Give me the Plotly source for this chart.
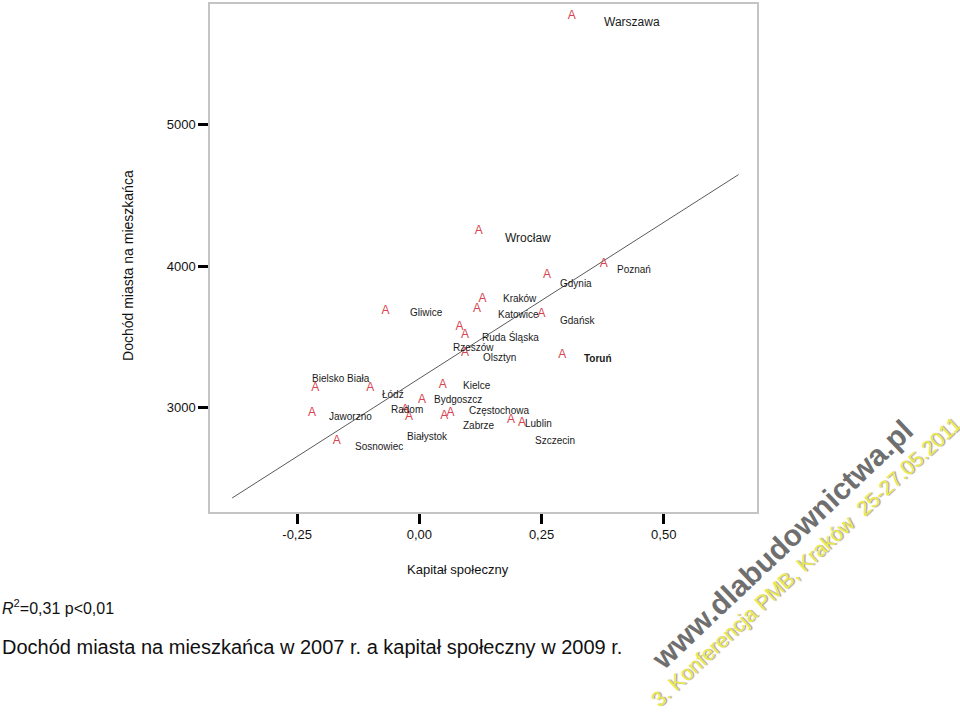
import plotly.graph_objects as go

# ---------------- data ----------------
cities = ["Warszawa", "Wrocław", "Gdynia", "Poznań", "Gliwice", "Kraków",
          "Katowice", "Gdańsk", "Rzeszów", "Ruda Śląska", "Olsztyn", "Toruń",
          "Bielsko Biała", "Łódź", "Jaworzno", "Sosnowiec", "Kielce",
          "Bydgoszcz", "Radom", "Białystok", "Częstochowa", "Zabrze",
          "Lublin", "Szczecin"]
social_capital = [0.312, 0.1215, 0.261, 0.377, -0.069, 0.129,
                  0.118, 0.250, 0.082, 0.0935, 0.0935, 0.2926,
                  -0.2128, -0.1002, -0.2195, -0.169, 0.048,
                  0.0055, -0.029, -0.021, 0.064, 0.051,
                  0.1876, 0.210]
income_per_capita = [5770, 4249, 3937, 4014, 3685, 3766,
                     3699, 3662, 3568, 3514, 3385, 3375,
                     3141, 3141, 2965, 2768, 3164,
                     3056, 2986, 2932, 2965, 2939,
                     2915, 2892]

fit_intercept = 3207
fit_slope = 2207
fit_x_span = [-0.383, 0.653]

x_tick_values = [-0.25, 0.0, 0.25, 0.50]
x_tick_labels = ["-0,25", "0,00", "0,25", "0,50"]
y_tick_values = [3000, 4000, 5000]
y_tick_labels = ["3000", "4000", "5000"]

x_title = "Kapitał społeczny"
y_title = "Dochód miasta na mieszkańca"
stat_text = "<i>R</i><sup>2</sup>=0,31 p&lt;0,01"
caption = "Dochód miasta na mieszkańca w 2007 r. a kapitał społeczny w 2009 r."
watermark1 = "www.dlabudownictwa.pl"
watermark2 = "3. Konferencja PMB, Kraków  25-27.05.2011"

# ---------------- style / layout ----------------
FONT = "Liberation Sans, Arial, Helvetica, sans-serif"
W, H = 960, 723
PL, PR, PT, PB = 210, 757, 2, 512          # plot area in pixels
MARK_RED = "#d9434f"

# label offsets (pixels: right, down) from each point, and label styling
label_offset = {
    "Warszawa": (30, 6), "Wrocław": (24, 7), "Gdynia": (11, 8), "Poznań": (11, 5),
    "Gliwice": (22, 2), "Kraków": (19, -1), "Katowice": (19, 6), "Gdańsk": (16, 6),
    "Rzeszów": (-8, 20), "Ruda Śląska": (15, 2), "Olsztyn": (16, 4), "Toruń": (20, 4),
    "Bielsko Biała": (-5, -9), "Łódź": (10, 7), "Jaworzno": (15, 4), "Sosnowiec": (16, 6),
    "Kielce": (18, 1), "Bydgoszcz": (10, 0), "Radom": (-16, 0), "Białystok": (-4, 19),
    "Częstochowa": (16, -2), "Zabrze": (17, 9), "Lublin": (12, 4), "Szczecin": (11, 17),
}
big_labels = {"Warszawa", "Wrocław"}
bold_labels = {"Toruń"}


def px(xp, yp):
    """pixel -> paper coordinates"""
    return (xp - PL) / (PR - PL), (PB - yp) / (PB - PT)


fig = go.Figure()

# regression line
fig.add_trace(go.Scatter(
    x=fit_x_span,
    y=[fit_intercept + fit_slope * v for v in fit_x_span],
    mode="lines", line=dict(color="#5a5a5a", width=1),
    hoverinfo="skip", showlegend=False))

# "A" markers
fig.add_trace(go.Scatter(
    x=social_capital, y=income_per_capita, mode="text",
    text=["A"] * len(cities), textposition="middle center",
    textfont=dict(family=FONT, size=12, color=MARK_RED),
    hovertext=cities, showlegend=False))

annotations = []
for name, xv, yv in zip(cities, social_capital, income_per_capita):
    dx, dy = label_offset[name]
    size = 12 if name in big_labels else 10
    txt = f"<b>{name}</b>" if name in bold_labels else name
    annotations.append(dict(
        x=xv, y=yv, xref="x", yref="y", text=txt, showarrow=False,
        xanchor="left", yanchor="middle", xshift=dx, yshift=-dy,
        font=dict(family=FONT, size=size, color="#1a1a1a")))

# axis titles and captions
ax, ay = px(458, 570)
annotations.append(dict(x=ax, y=ay, xref="paper", yref="paper", text=x_title,
                        showarrow=False, xanchor="center", yanchor="middle",
                        font=dict(family=FONT, size=13, color="#111")))
ax, ay = px(128, 265)
annotations.append(dict(x=ax, y=ay, xref="paper", yref="paper", text=y_title,
                        showarrow=False, xanchor="center", yanchor="middle",
                        textangle=-90, font=dict(family=FONT, size=14, color="#111")))
ax, ay = px(0, 607)
annotations.append(dict(x=ax, y=ay, xref="paper", yref="paper", text=stat_text,
                        showarrow=False, xanchor="left", yanchor="middle",
                        font=dict(family=FONT, size=16, color="#111")))
ax, ay = px(0, 648)
annotations.append(dict(x=ax, y=ay, xref="paper", yref="paper", text=caption,
                        showarrow=False, xanchor="left", yanchor="middle",
                        font=dict(family=FONT, size=20, color="#111")))

# watermark
ax, ay = px(782, 545)
annotations.append(dict(x=ax, y=ay, xref="paper", yref="paper",
                        text=f"<b>{watermark1}</b>", showarrow=False,
                        xanchor="center", yanchor="middle", textangle=-43.4,
                        font=dict(family=FONT, size=30, color="#6f6f6f",
                                  shadow="1px 1px 1px #ffffff")))
ax, ay = px(806, 562)
annotations.append(dict(x=ax, y=ay, xref="paper", yref="paper",
                        text=watermark2, showarrow=False,
                        xanchor="center", yanchor="middle", textangle=-42.9,
                        font=dict(family=FONT, size=21, color="#eaea4e",
                                  shadow="1px 1px 1px #9a9a9a")))

axis_common = dict(showgrid=False, zeroline=False, showline=True, mirror=True,
                   linecolor="#c4c4c4", linewidth=1.5, ticks="outside",
                   ticklen=10, tickwidth=3, tickcolor="#000",
                   tickfont=dict(family=FONT, size=13, color="#111"))

fig.update_layout(
    width=W, height=H, autosize=False,
    margin=dict(l=PL, r=W - PR, t=PT, b=H - PB, pad=0),
    paper_bgcolor="white", plot_bgcolor="white",
    xaxis=dict(range=[-0.4282, 0.6907], tickvals=x_tick_values,
               ticktext=x_tick_labels, **axis_common),
    yaxis=dict(range=[2263, 5854], tickvals=y_tick_values,
               ticktext=y_tick_labels, **axis_common),
    annotations=annotations,
    showlegend=False,
)

fig.write_html("out.html")
